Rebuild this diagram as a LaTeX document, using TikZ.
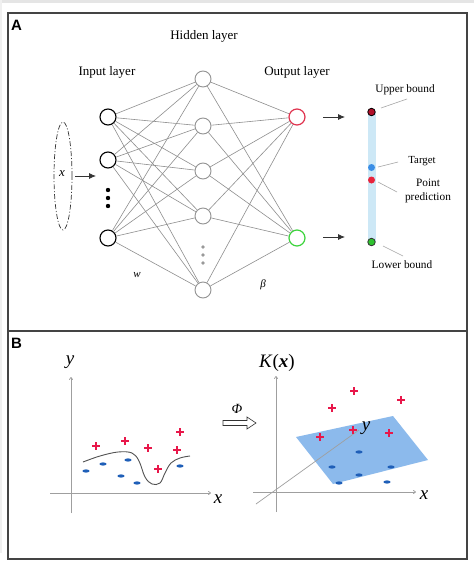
\documentclass[tikz,border=0pt]{standalone}
\usepackage{fontspec}
\setmainfont{Liberation Serif}
\newfontfamily\labfont{Liberation Sans}
\usetikzlibrary{arrows.meta,shapes.geometric}
\definecolor{edgegray}{HTML}{8E8E8E}
\definecolor{framegray}{HTML}{444444}
\definecolor{outred}{HTML}{E0334F}
\definecolor{outgreen}{HTML}{3CD43C}
\definecolor{barblue}{HTML}{CDE8F6}
\definecolor{ptred}{HTML}{E8243C}
\definecolor{ubred}{HTML}{B0102A}
\definecolor{tgblue}{HTML}{3A8EE6}
\definecolor{lbgreen}{HTML}{2EC22E}
\definecolor{plusred}{HTML}{E8174A}
\definecolor{dashblue}{HTML}{1F5FB8}
\definecolor{planeblue}{HTML}{8CBAEC}
\tikzset{
  frame/.style={draw=framegray,line width=1.1pt},
  innode/.style={circle,draw=black,line width=1.1pt,minimum size=16pt,inner sep=0pt},
  hidnode/.style={circle,draw=gray!85,line width=0.9pt,minimum size=16pt,inner sep=0pt},
  rednode/.style={circle,draw=outred,line width=1.2pt,minimum size=16pt,inner sep=0pt},
  grnnode/.style={circle,draw=outgreen,line width=1.2pt,minimum size=16pt,inner sep=0pt},
  wire/.style={draw=edgegray,line width=0.6pt},
  lab/.style={font=\fontsize{13}{15}\selectfont,inner sep=0pt},
  smalllab/.style={font=\fontsize{11.3}{13}\selectfont,inner sep=0pt,align=center},
  lead/.style={draw=gray!70,line width=0.6pt},
  blackarrow/.style={draw=gray!40!black,line width=0.8pt,-{Latex[length=7pt,width=6pt]}},
  axis/.style={draw=gray!75,line width=0.7pt,-{To[length=3pt,width=4pt]}},
  plusmark/.style={draw=plusred,line width=1.5pt},
  dashmark/.style={fill=dashblue,draw=none},
  panellab/.style={font=\labfont\bfseries\fontsize{15}{17}\selectfont,inner sep=0pt,anchor=west},
  bigit/.style={font=\fontsize{19}{21}\selectfont\itshape,inner sep=0pt}
}
\newcommand{\plusat}[2]{\draw[plusmark] (#1-3.8,#2) -- (#1+3.8,#2) (#1,#2-3.8) -- (#1,#2+3.8);}
\newcommand{\dashat}[2]{\fill[dashmark] (#1,#2) ellipse (3.6pt and 1.6pt);}
\begin{document}
\begin{tikzpicture}[x=1pt,y=-1pt]
\useasboundingbox (0,0) rectangle (474,579);
\fill[white] (0,0) rectangle (474,579);
\fill[gray!20] (0,0) rectangle (474,3);
\fill[gray!12] (0,0) rectangle (1.5,553);
% frames
\draw[frame] (8,13) rectangle (467,331);
\draw[frame] (8,331) rectangle (467,559);
\node[panellab] (labA) at (11,25) {A};
\node[panellab] (labB) at (11,343) {B};
% ---------- Panel A ----------
\node[lab] (thid) at (204,36) {Hidden layer};
\node[lab] (tin) at (107,72) {Input layer};
\node[lab] (tout) at (297,72) {Output layer};
\node[innode] (in1) at (108,117) {};
\node[innode] (in2) at (108,160) {};
\node[innode] (in3) at (108,238) {};
\node[hidnode] (h1) at (203,79) {};
\node[hidnode] (h2) at (203,126) {};
\node[hidnode] (h3) at (203,171) {};
\node[hidnode] (h4) at (203,216) {};
\node[hidnode] (h5) at (203,290) {};
\node[rednode] (o1) at (297,117) {};
\node[grnnode] (o2) at (297,238) {};
\foreach \i in {in1,in2,in3}{\foreach \h in {h1,h2,h3,h4,h5}{\draw[wire] (\i) -- (\h);}}
\foreach \h in {h1,h2,h3,h4,h5}{\foreach \o in {o1,o2}{\draw[wire] (\h) -- (\o);}}
\foreach \yy in {190,198,206}{\fill[black] (108,\yy) circle (2.2pt);}
\foreach \yy in {247,255,263}{\fill[gray!80] (203,\yy) circle (1.9pt);}
% input ellipse
\node[draw=gray!40!black,line width=0.7pt,dash pattern=on 5pt off 2pt on 1pt off 2pt,ellipse,minimum width=18pt,minimum height=108pt,inner sep=0pt] (xell) at (63,176) {};
\node[lab,font=\fontsize{13}{15}\selectfont\itshape] (xin) at (62,174) {x};
\coordinate (xa1) at (75,176);
\coordinate (xa2) at (96,176);
\draw[blackarrow] (xa1) -- (xa2);
\node[smalllab,font=\fontsize{11}{13}\selectfont\itshape] (w) at (137,275) {w};
\node[smalllab,font=\fontsize{11}{13}\selectfont\itshape] (beta) at (263,285) {β};
% output arrows
\coordinate (oa1) at (323,117);
\coordinate (ob1) at (345,117);
\coordinate (oa2) at (323,237);
\coordinate (ob2) at (345,237);
\draw[blackarrow] (oa1) -- (ob1);
\draw[blackarrow] (oa2) -- (ob2);
% bar
\fill[barblue] (367.5,112) rectangle (375.5,242);
\node[circle,fill=ubred,draw=black,line width=0.8pt,minimum size=7.5pt,inner sep=0pt] (ub) at (371.5,112) {};
\node[circle,fill=tgblue,minimum size=7pt,inner sep=0pt] (tg) at (371.5,167.5) {};
\node[circle,fill=ptred,minimum size=7pt,inner sep=0pt] (pp) at (371.5,180) {};
\node[circle,fill=lbgreen,draw=black!80,line width=0.8pt,minimum size=7.5pt,inner sep=0pt] (lb) at (371.5,242) {};
\node[smalllab] (tub) at (405,90) {Upper bound};
\node[smalllab,font=\fontsize{10.8}{13}\selectfont] (ttg) at (422,161) {Target};
\node[smalllab] (tpp) at (428,191) {Point\\[1pt]prediction};
\node[smalllab] (tlb) at (402,265) {Lower bound};
\coordinate (l1a) at (381,108); \coordinate (l1b) at (407,99);
\coordinate (l2a) at (378,167); \coordinate (l2b) at (398,162);
\coordinate (l3a) at (378,182); \coordinate (l3b) at (397,192);
\coordinate (l4a) at (383,246); \coordinate (l4b) at (403,256);
\draw[lead] (l1a) -- (l1b);
\draw[lead] (l2a) -- (l2b);
\draw[lead] (l3a) -- (l3b);
\draw[lead] (l4a) -- (l4b);
% ---------- Panel B ----------
% left axes
\coordinate (ly0) at (71,513); \coordinate (ly1) at (71,377);
\coordinate (lx0) at (50,493); \coordinate (lx1) at (211,493);
\draw[axis] (ly0) -- (ly1);
\draw[axis] (lx0) -- (lx1);
\node[bigit] (ylab) at (70,362) {y};
\node[bigit] (xlab) at (218,499) {x};
\draw[draw=gray!30!black!80,line width=0.9pt] plot[smooth,tension=0.6] coordinates {(83,462) (100,456) (118,452) (132,453) (139,461) (145,477) (152,484) (160,483) (165,473) (171,463) (180,458) (190,456)};
\plusat{96}{446}
\plusat{125}{441}
\plusat{148}{448}
\plusat{177}{450}
\plusat{180}{432}
\plusat{158}{469}
\dashat{86}{471}
\dashat{103}{464}
\dashat{128}{460}
\dashat{121}{476}
\dashat{137}{483}
\dashat{180}{466}
% phi arrow
\node[font=\fontsize{14}{16}\selectfont\itshape,inner sep=0pt] (phi) at (237,409) {Φ};
\draw[draw=gray!40!black,line width=0.6pt,fill=white] (223,420.5) -- (247,420.5) -- (247,417) -- (256,423) -- (247,429) -- (247,425.5) -- (223,425.5) -- cycle;
% right axes
\fill[planeblue] (296,437) -- (393,416) -- (428,460) -- (333,484) -- cycle;
\coordinate (ry0) at (276,512); \coordinate (ry1) at (276,376);
\coordinate (rx0) at (253,492); \coordinate (rx1) at (416,492);
\coordinate (rd0) at (256,504); \coordinate (rd1) at (359,430);
\draw[axis] (ry0) -- (ry1);
\draw[axis] (rx0) -- (rx1);
\draw[draw=gray!75,line width=0.7pt] (rd0) -- (rd1);
\node[font=\fontsize{19}{21}\selectfont,inner sep=0pt] (Klab) at (277,363) {\textit{K}(\textbf{\textit{x}})};
\node[bigit] (rxlab) at (424,495) {x};
\node[bigit] (rylab) at (366,428) {y};
\plusat{332}{408}
\plusat{354}{391}
\plusat{401}{400}
\plusat{320}{437}
\plusat{353}{430}
\plusat{389}{433}
\dashat{359}{452}
\dashat{332}{467}
\dashat{391}{467}
\dashat{359}{475}
\dashat{339}{483}
\dashat{387}{482}
\end{tikzpicture}
\end{document}
